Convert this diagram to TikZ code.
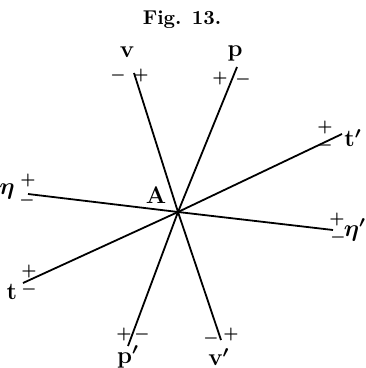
\documentclass[tikz,border=0pt]{standalone}
\usetikzlibrary{calc,positioning}

\begin{document}
\begin{tikzpicture}[x=0.5pt,y=-0.5pt]

\tikzset{ray/.style={line width=0.9pt},
  sign/.style={inner sep=0pt,font=\footnotesize\boldmath},
  lab/.style={inner sep=0pt,font=\large\bfseries\boldmath}}

\useasboundingbox (0,0) rectangle (365,368);

\node[font=\bfseries] (fig) at (182,20) {Fig. 13.};

\coordinate (A) at (178,212);
\node[lab] (alab) at ($(A) + (-22,-17)$) {A};

% the four lines through A
\coordinate (v) at (134,73);
\coordinate (vv) at (221,340);
\draw [ray] (v) to (A) to (vv);

\coordinate (p) at (237,67);
\coordinate (pp) at (128,346);
\draw [ray] (p) to (A) to (pp);

\coordinate (t) at (23,283);
\coordinate (tt) at (342,134);
\draw [ray] (t) to (A) to (tt);

\coordinate (eta) at (28,194);
\coordinate (etaa) at (333,230);
\draw [ray] (eta) to (A) to (etaa);

% v and v'
\node[lab] (vlab) at ($(v) + (-7,-21)$) {v};
\node[sign] (vm) at ($(v) + (-16,3)$) {$-$};
\node[sign] (vp) at ($(v) + (7,3)$) {$+$};

\node[lab] (vvlab) at ($(vv) + (-2,17)$) {v$'$};
\node[sign] (vvm) at ($(vv) + (-10,-2)$) {$-$};
\node[sign] (vvp) at ($(vv) + (10,-6)$) {$+$};

% p and p'
\node[lab] (plab) at ($(p) + (-2,-14)$) {p};
\node[sign] (pp1) at ($(p) + (-17,12)$) {$+$};
\node[sign] (pm1) at ($(p) + (6,13)$) {$-$};

\node[lab] (pplab) at ($(pp) + (0,11)$) {p$'$};
\node[sign] (ppp) at ($(pp) + (-4,-12)$) {$+$};
\node[sign] (ppm) at ($(pp) + (14,-12)$) {$-$};

% t and t'
\node[lab] (tlab) at ($(t) + (-11,9)$) {t};
\node[sign] (tp) at ($(t) + (6,-12)$) {$+$};
\node[sign] (tm) at ($(t) + (6,6)$) {$-$};

\node[lab] (ttlab) at ($(tt) + (11,4)$) {t$'$};
\node[sign] (ttp) at ($(tt) + (-17,-6)$) {$+$};
\node[sign] (ttm) at ($(tt) + (-17,12)$) {$-$};

% eta and eta'
\node[lab] (etalab) at ($(eta) + (-21,-2)$) {$\eta$};
\node[sign] (etap) at ($(eta) + (0,-13)$) {$+$};
\node[sign] (etam) at ($(eta) + (-1,7)$) {$-$};

\node[lab] (etaalab) at ($(etaa) + (22,0)$) {$\eta'$};
\node[sign] (etaap) at ($(etaa) + (4,-11)$) {$+$};
\node[sign] (etaam) at ($(etaa) + (5,8)$) {$-$};

\end{tikzpicture}
\end{document}
